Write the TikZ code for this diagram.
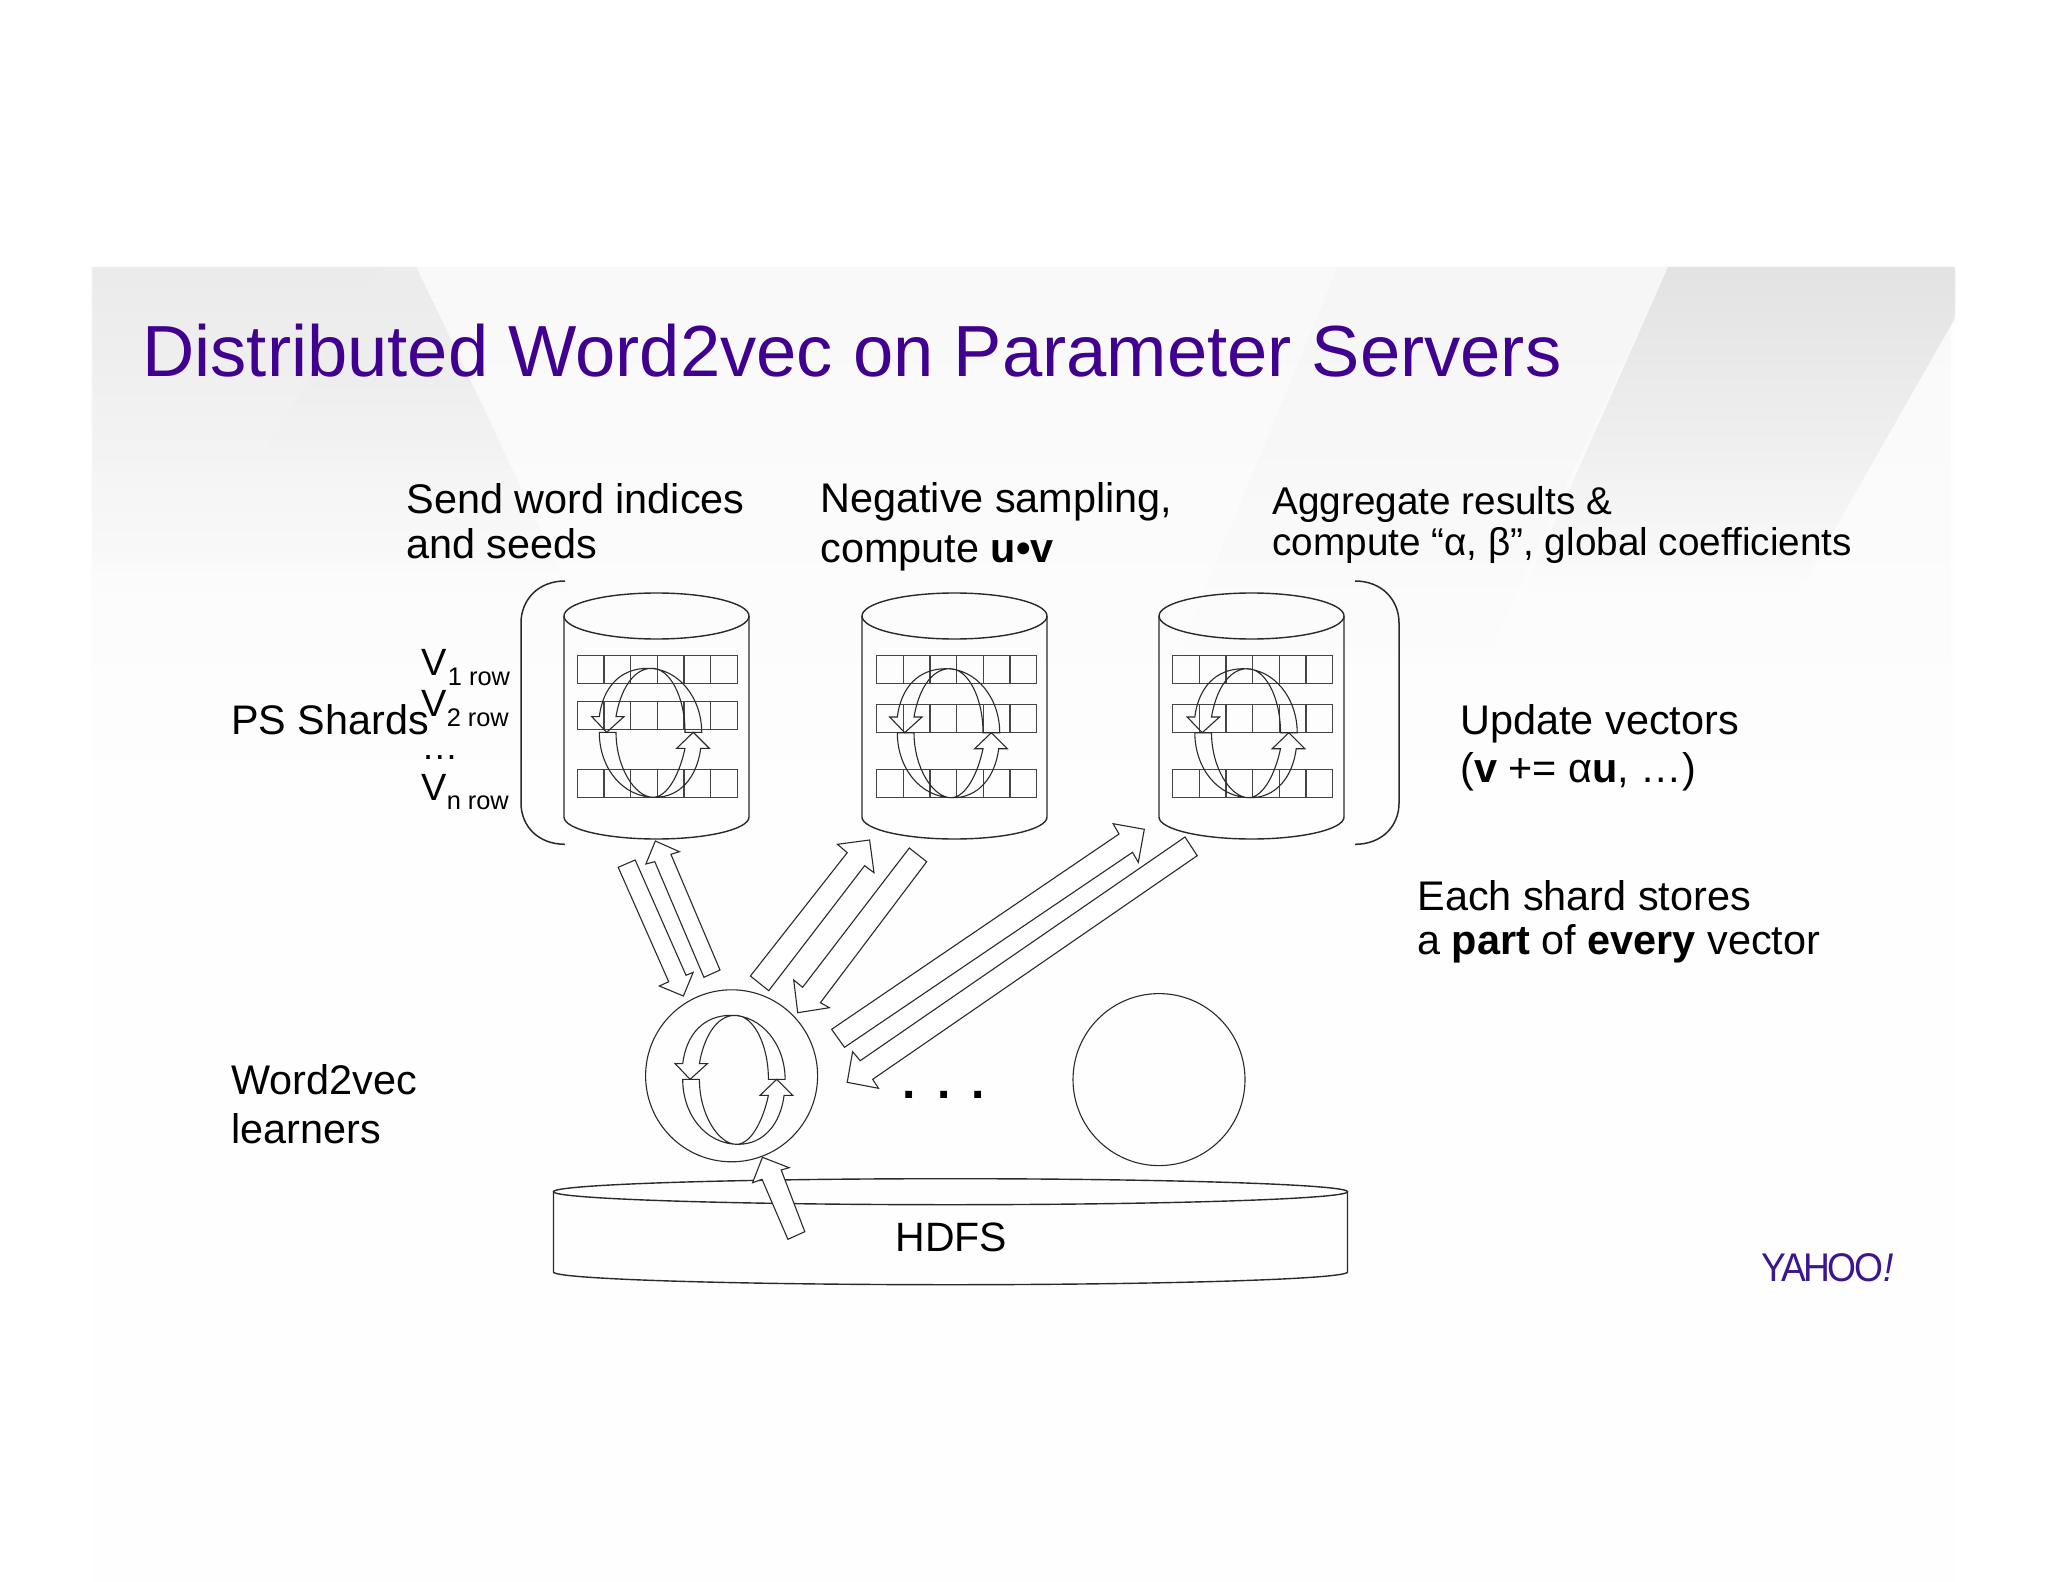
\documentclass[tikz,border=0pt]{standalone}
\usepackage{fontspec}
\usetikzlibrary{fadings}
\setmainfont{Liberation Sans}
\newfontfamily\yahoofont[FakeStretch=0.93,LetterSpace=-6]{Liberation Sans}
\definecolor{yahoopurple}{HTML}{400090}
\definecolor{logopurple}{HTML}{3B1592}
\definecolor{inkline}{HTML}{2A2A2A}
\definecolor{gridline}{HTML}{444444}
\tikzset{
  lbl/.style={inner sep=0pt,align=left,anchor=north west,text=black},
  lblbase/.style={inner sep=0pt,anchor=base west,text=black},
  thinline/.style={draw=inkline,line width=0.55pt,line join=miter},
  gridcell/.style={draw=gridline,line width=0.65pt},
  blockarrow/.style={thinline,fill=white},
  bracketline/.style={draw=inkline,line width=0.75pt},
  slidewash/.style={path fading=south},
}
\newcommand{\fs}[1]{\fontsize{#1}{#1}\selectfont}
\newcommand{\ringarrows}[2]{%
  \begin{scope}[shift={(#1,#2)}]
    \draw[thinline] (51.7,0) .. controls (51.7,-35) and (28,-64) .. (-2,-64)
      .. controls (-30,-64) and (-47,-45) .. (-50.7,-15.7)
      -- (-58.3,-15.7) -- (-43.3,0) -- (-26,-15.7) -- (-34,-15.7)
      .. controls (-30,-40) and (-18,-64) .. (2,-64)
      .. controls (20,-64) and (35,-35) .. (35,0) -- cycle;
    \draw[thinline] (-50.7,0) .. controls (-50.7,35) and (-28,65) .. (5,65)
      .. controls (30,65) and (47,45) .. (50.7,16)
      -- (59.3,16) -- (43.3,0) -- (26.7,16) -- (35,16)
      .. controls (30,40) and (18,65) .. (3,65)
      .. controls (-15,65) and (-34,35) .. (-34,0) -- cycle;
  \end{scope}}
\newcommand{\shardcyl}[3]{% centre x, grid left x, row 2 top
  \draw[thinline,line width=0.7pt] (#1,616) ellipse [x radius=92.5,y radius=23];
  \draw[thinline,line width=0.7pt] (#1-92.5,616) -- (#1-92.5,817)
     arc[start angle=180,end angle=0,x radius=92.5,y radius=22] -- (#1+92.5,616);
  \foreach \ry in {655.3,#3,769.3}{
    \foreach \cx in {0,...,5}{
      \draw[gridcell] (#2+\cx*26.67,\ry) rectangle ++(26.67,28);
    }
  }}
\begin{document}
\begin{tikzpicture}[x=0.5pt,y=-0.5pt]
\useasboundingbox (0,0) rectangle (2048,1582);
% slide background
\fill[white] (0,0) rectangle (2048,1582);
\fill[black!0.4] (92.5,267) rectangle (1955,1582);
\fill[black!2.5,slidewash] (92.5,267) rectangle (1955,760);
\fill[black!8,slidewash] (92.5,267) -- (416,267) -- (570,590) -- (92.5,590) -- cycle;
\fill[black!7,slidewash] (381,267) -- (416,267) -- (505,450) -- (265,450) -- cycle;
\fill[black!3.5,slidewash] (1338,267) -- (1668,267) -- (1490,650) -- (1180,650) -- cycle;
\fill[black!11,slidewash] (1668,267) -- (1955,267) -- (1955,318) -- (1800,590) -- (1525,590) -- cycle;
% title
\node[lblbase,text=yahoopurple,font=\fs{36.2}] (title) at (142,377) {Distributed Word2vec on Parameter Servers};
% captions
\node[lbl,font=\fontsize{20.7}{22.35}\selectfont] (send) at (406,483) {Send word indices\\and seeds};
\node[lbl,font=\fontsize{20.7}{25}\selectfont] (neg) at (820,482.5) {Negative sampling,\\compute \textbf{u•v}};
\node[lbl,font=\fontsize{19.35}{20.7}\selectfont] (agg) at (1272,486) {Aggregate results \&\\compute “α, β”, global coefficients};
\node[lblbase,font=\fs{20.65}] (ps) at (231,734) {PS Shards};
\node[lblbase,font=\fs{19}] (v1) at (421,675) {V\raisebox{-5pt}{\fs{12.7}\kern0.6pt 1 row}};
\node[lblbase,font=\fs{19}] (v2) at (421,716.7) {V\raisebox{-5pt}{\fs{12.7}2 row}};
\node[lblbase,font=\fs{18.5}] (vdots) at (421,759) {…};
\node[lblbase,font=\fs{19}] (vn) at (421,800) {V\raisebox{-4.7pt}{\fs{12.7}n row}};
\node[lbl,font=\fontsize{20.7}{24}\selectfont] (update) at (1460,704) {Update vectors\\(\textbf{v} += α\textbf{u}, …)};
\node[lbl,font=\fontsize{20.7}{22}\selectfont] (each) at (1417,880) {Each shard stores\\a \textbf{part} of \textbf{every} vector};
\node[lbl,font=\fontsize{20.7}{24.5}\selectfont] (w2v) at (231,1064) {Word2vec\\learners};
% brackets
\draw[bracketline] (565,581) .. controls (538,581) and (521,600) .. (521,623) -- (521,803) .. controls (521,826) and (538,844.3) .. (565,844.3);
\draw[bracketline] (1355,581) .. controls (1382,581) and (1399,600) .. (1399,623) -- (1399,803) .. controls (1399,826) and (1382,844.3) .. (1355,844.3);
% shards
\shardcyl{656.5}{577.3}{701.3}
\shardcyl{954.5}{876.7}{704.7}
\shardcyl{1251.5}{1172.7}{704.7}
\ringarrows{650}{732.3}
\ringarrows{948}{732.7}
\ringarrows{1245.5}{732.7}
% learners
\node[circle,thinline,minimum size=86pt,inner sep=0pt] (learnerA) at (731.6,1075.8) {};
\node[circle,thinline,minimum size=86pt,inner sep=0pt] (learnerB) at (1159,1079.6) {};
\ringarrows{733.4}{1079.3}
\node[lblbase,font=\bfseries\fs{24}] (dots) at (902,1098.5) {.\hspace{10.65pt}.\hspace{10.65pt}.};
% HDFS
\draw[thinline,line width=0.7pt] (950.5,1191.7) ellipse [x radius=397,y radius=13];
\draw[thinline,line width=0.7pt] (553.5,1191.7) -- (553.5,1272)
   arc[start angle=180,end angle=0,x radius=397,y radius=12.7] -- (1347.5,1191.7);
\node[inner sep=0pt,anchor=base,font=\fs{20.5}] (hdfs) at (951.5,1251) {HDFS};
% block arrows
\draw[blockarrow] (618.2,867.3) -- (635.2,860) -- (686,975.3) -- (693.2,972.3) -- (683.4,996) -- (659.3,986) -- (668.7,981.7) -- cycle;
\draw[blockarrow] (655.3,841) -- (679.4,851.7) -- (670.9,854.3) -- (720,970) -- (703.9,977.3) -- (654.8,861.7) -- (645.9,864) -- cycle;
\draw[blockarrow] (750.4,976) -- (847.2,852.7) -- (837.4,844.3) -- (869.6,840) -- (874,872.7) -- (864.6,865.7) -- (768.7,990.7) -- cycle;
\draw[blockarrow] (909.3,848) -- (926.7,861.7) -- (820.4,1002.7) -- (829.4,1007.7) -- (797.7,1012.7) -- (793.7,980) -- (802.6,987.3) -- cycle;
\draw[blockarrow] (831.6,1029.3) -- (1119,834) -- (1113.1,823.7) -- (1144.3,829.3) -- (1138.3,862.3) -- (1132.5,852.3) -- (844.5,1047.3) -- cycle;
\draw[blockarrow] (1185,837) -- (1197.2,855.7) -- (872.7,1079.3) -- (878.5,1088.3) -- (847.2,1082.3) -- (852.6,1051.7) -- (860.2,1060.7) -- cycle;
\draw[blockarrow] (762.4,1157.3) -- (789.2,1167.7) -- (781.2,1170) -- (804.8,1231.7) -- (787.9,1239.3) -- (762,1179.3) -- (752.6,1182.7) -- cycle;
% logo
\node[lblbase,text=logopurple,font=\yahoofont\fs{20}] (logo) at (1761,1281.7) {YAHOO{\itshape !}};
\end{tikzpicture}
\end{document}
